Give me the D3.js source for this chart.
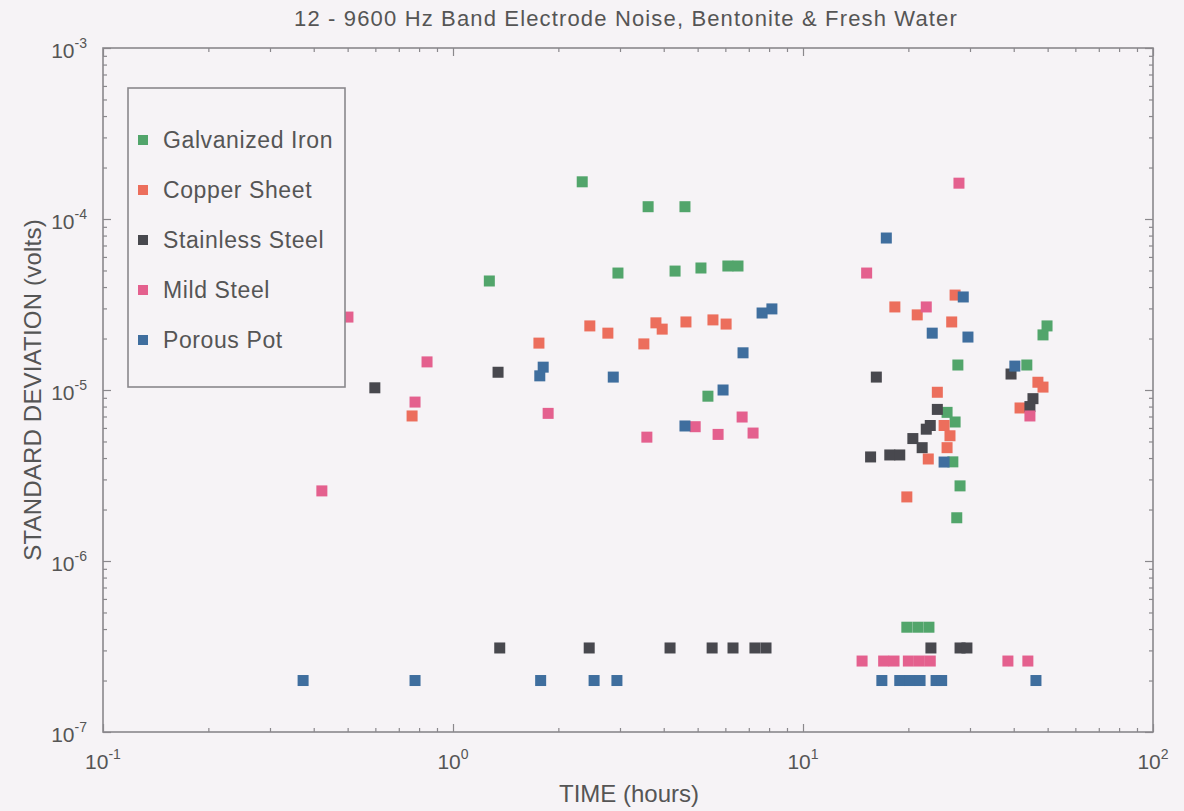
<!DOCTYPE html>
<html>
<head>
<meta charset="utf-8">
<script src="https://cdn.jsdelivr.net/npm/d3@7"></script>
<style>
  body { margin: 0; background: #f6f3f6; }
  svg text { font-family: Arial, "Liberation Sans", Helvetica, sans-serif; fill: #555; }
</style>
</head>
<body>
<svg id="chart" width="1184" height="811"></svg>
<script>
// ---- data: [time (hours), standard deviation (volts)] ----
const seriesNames = ["Galvanized Iron", "Copper Sheet", "Stainless Steel", "Mild Steel", "Porous Pot"];
const seriesColors = ["#52a56b", "#ec6e5c", "#48484e", "#e4608e", "#3f6e9e"];

const galvanizedIron = [
  [1.27, 4.34e-5], [2.34, 1.65e-4], [2.96, 4.83e-5], [3.61, 1.18e-4], [4.31, 4.96e-5],
  [4.60, 1.18e-4], [5.11, 5.17e-5], [5.35, 9.2e-6], [6.10, 5.31e-5], [6.52, 5.31e-5],
  [19.8, 4.1e-7], [21.3, 4.1e-7], [22.9, 4.1e-7],
  [25.8, 7.4e-6], [27.2, 6.5e-6], [26.8, 3.8e-6], [27.7, 1.40e-5], [28.1, 2.75e-6],
  [27.5, 1.79e-6], [43.6, 1.40e-5], [48.5, 2.10e-5], [49.8, 2.37e-5]
];

const copperSheet = [
  [0.764, 7.05e-6], [1.76, 1.88e-5], [2.46, 2.37e-5], [2.77, 2.15e-5], [3.51, 1.86e-5],
  [3.80, 2.47e-5], [3.96, 2.27e-5], [4.63, 2.50e-5], [5.53, 2.57e-5], [6.03, 2.43e-5],
  [18.3, 3.06e-5], [21.2, 2.75e-5], [27.2, 3.59e-5], [26.6, 2.50e-5], [24.2, 9.7e-6],
  [25.3, 6.2e-6], [26.3, 5.4e-6], [25.8, 4.6e-6], [22.8, 3.95e-6], [19.8, 2.37e-6],
  [46.9, 1.11e-5], [48.5, 1.04e-5], [41.7, 7.85e-6]
];

const stainlessSteel = [
  [0.598, 1.03e-5], [1.345, 1.27e-5], [16.2, 1.19e-5], [24.2, 7.7e-6], [23.1, 6.2e-6],
  [22.5, 5.9e-6], [20.6, 5.2e-6], [21.9, 4.6e-6], [15.6, 4.06e-6], [17.7, 4.17e-6],
  [18.9, 4.17e-6], [39.3, 1.24e-5], [45.4, 8.9e-6], [44.5, 8.0e-6],
  [1.36, 3.1e-7], [2.45, 3.1e-7], [4.17, 3.1e-7], [5.50, 3.1e-7], [6.31, 3.1e-7],
  [7.29, 3.1e-7], [7.84, 3.1e-7], [23.2, 3.1e-7], [28.1, 3.1e-7], [29.4, 3.1e-7]
];

const mildSteel = [
  [0.422, 2.57e-6], [0.501, 2.67e-5], [0.779, 8.5e-6], [0.843, 1.46e-5], [1.87, 7.3e-6],
  [3.58, 5.3e-6], [4.92, 6.1e-6], [5.72, 5.5e-6], [6.70, 6.95e-6], [7.20, 5.6e-6],
  [15.2, 4.83e-5], [22.5, 3.06e-5], [27.9, 1.62e-4], [44.5, 7.05e-6],
  [14.75, 2.6e-7], [17.0, 2.6e-7], [18.2, 2.6e-7], [20.0, 2.6e-7], [21.5, 2.6e-7],
  [23.1, 2.6e-7], [38.5, 2.6e-7], [43.9, 2.6e-7]
];

const porousPot = [
  [0.373, 2.0e-7], [0.779, 2.0e-7], [1.78, 2.0e-7], [2.53, 2.0e-7], [2.94, 2.0e-7],
  [16.8, 2.0e-7], [18.9, 2.0e-7], [20.2, 2.0e-7], [21.6, 2.0e-7], [24.0, 2.0e-7],
  [24.9, 2.0e-7], [46.3, 2.0e-7],
  [1.81, 1.36e-5], [1.77, 1.21e-5], [2.87, 1.19e-5], [4.60, 6.16e-6], [5.91, 1.0e-5],
  [6.74, 1.65e-5], [7.64, 2.82e-5], [8.15, 2.98e-5], [17.3, 7.74e-5], [23.4, 2.15e-5],
  [28.7, 3.50e-5], [29.6, 2.04e-5], [25.3, 3.79e-6], [40.3, 1.38e-5]
];

const seriesData = [galvanizedIron, copperSheet, stainlessSteel, mildSteel, porousPot];

const xMajorExponents = [-1, 0, 1, 2];
const yMajorExponents = [-3, -4, -5, -6, -7];

const titleText = "12 - 9600 Hz Band Electrode Noise, Bentonite & Fresh Water";
const xLabelText = "TIME (hours)";
const yLabelText = "STANDARD DEVIATION (volts)";

// ---- layout ----
const plot = { left: 103, right: 1153, top: 48, bottom: 732 };
const markerSize = 11;
const frameColor = "#8a888c";

const svg = d3.select("#chart");

const x = d3.scaleLog().domain([0.1, 100]).range([plot.left, plot.right]);
const y = d3.scaleLog().domain([1e-7, 1e-3]).range([plot.bottom, plot.top]);

// minor/major tick values for a log axis
function logTicks(loExp, hiExp) {
  const major = [], minor = [];
  for (let e = loExp; e <= hiExp; e++) {
    major.push(Math.pow(10, e));
    if (e < hiExp) for (let k = 2; k <= 9; k++) minor.push(k * Math.pow(10, e));
  }
  return { major, minor };
}
const xt = logTicks(-1, 2);
const yt = logTicks(-7, -3);

// ticks drawn inward on all four sides
function drawTicks(axisFn, scale, values, size, transform) {
  const g = svg.append("g").attr("transform", transform)
    .call(axisFn(scale).tickValues(values).tickSize(-size).tickFormat(""));
  g.select(".domain").remove();
  g.selectAll(".tick line").attr("stroke", frameColor).attr("stroke-width", 1.2);
}
drawTicks(d3.axisBottom, x, xt.major, 8, `translate(0,${plot.bottom})`);
drawTicks(d3.axisBottom, x, xt.minor, 4, `translate(0,${plot.bottom})`);
drawTicks(d3.axisTop, x, xt.major, 8, `translate(0,${plot.top})`);
drawTicks(d3.axisTop, x, xt.minor, 4, `translate(0,${plot.top})`);
drawTicks(d3.axisLeft, y, yt.major, 8, `translate(${plot.left},0)`);
drawTicks(d3.axisLeft, y, yt.minor, 4, `translate(${plot.left},0)`);
drawTicks(d3.axisRight, y, yt.major, 8, `translate(${plot.right},0)`);
drawTicks(d3.axisRight, y, yt.minor, 4, `translate(${plot.right},0)`);

// plot frame
svg.append("rect")
  .attr("x", plot.left).attr("y", plot.top)
  .attr("width", plot.right - plot.left).attr("height", plot.bottom - plot.top)
  .attr("fill", "none").attr("stroke", frameColor).attr("stroke-width", 1.6);

// power-of-ten tick labels
function powerLabel(sel, exp) {
  sel.append("tspan").text("10");
  sel.append("tspan").attr("dy", -10).attr("font-size", 14).text(String(exp));
}
xMajorExponents.forEach(e => {
  const t = svg.append("text")
    .attr("x", x(Math.pow(10, e))).attr("y", 769)
    .attr("text-anchor", "middle").attr("font-size", 21);
  powerLabel(t, e);
});
yMajorExponents.forEach(e => {
  const t = svg.append("text")
    .attr("x", 87).attr("y", y(Math.pow(10, e)) + 10)
    .attr("text-anchor", "end").attr("font-size", 21);
  powerLabel(t, e);
});

// title and axis labels
svg.append("text").attr("x", 626).attr("y", 26)
  .attr("text-anchor", "middle").attr("font-size", 22).attr("letter-spacing", 1.15)
  .text(titleText);
svg.append("text").attr("x", 629).attr("y", 802)
  .attr("text-anchor", "middle").attr("font-size", 24)
  .text(xLabelText);
svg.append("text")
  .attr("transform", `translate(41,390) rotate(-90)`)
  .attr("text-anchor", "middle").attr("font-size", 24).attr("letter-spacing", 0.2)
  .text(yLabelText);

// markers
const marks = svg.append("g");
seriesData.forEach((pts, i) => {
  marks.append("g").selectAll("rect").data(pts).join("rect")
    .attr("x", d => x(d[0]) - markerSize / 2)
    .attr("y", d => y(d[1]) - markerSize / 2)
    .attr("width", markerSize).attr("height", markerSize)
    .attr("fill", seriesColors[i]);
});

// legend
const legend = svg.append("g");
legend.append("rect")
  .attr("x", 128).attr("y", 88).attr("width", 217).attr("height", 299)
  .attr("fill", "#f6f3f6").attr("stroke", frameColor).attr("stroke-width", 1.6);
seriesNames.forEach((name, i) => {
  const cy = 140 + i * 50;
  legend.append("rect")
    .attr("x", 143 - 5).attr("y", cy - 5).attr("width", 10).attr("height", 10)
    .attr("fill", seriesColors[i]);
  legend.append("text").attr("x", 163).attr("y", cy + 8)
    .attr("font-size", 23).attr("letter-spacing", 0.6).text(name);
});
</script>
</body>
</html>
